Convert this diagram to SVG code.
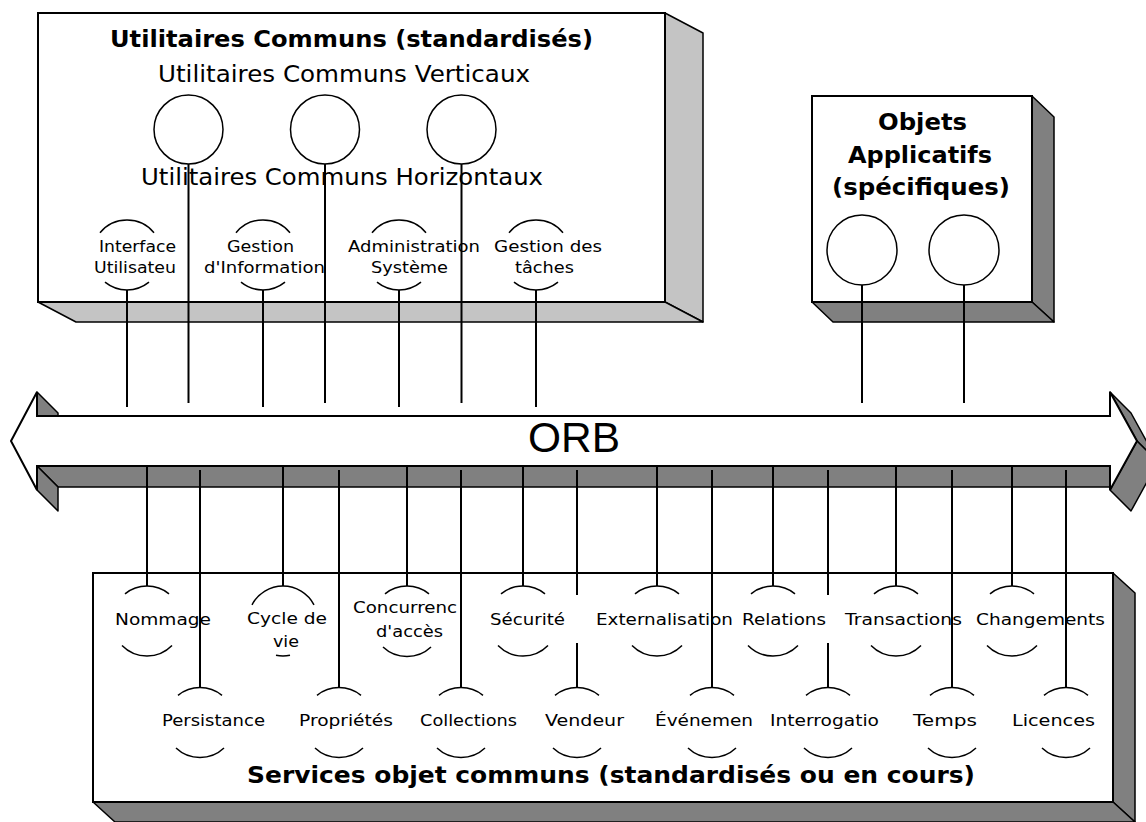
<svg xmlns="http://www.w3.org/2000/svg" width="1146" height="822" viewBox="0 0 1146 822">
<style>
.box{fill:#fff;stroke:#000;stroke-width:2}
.lt{fill:#c4c4c4;stroke:#000;stroke-width:1.5;stroke-linejoin:round}
.dk{fill:#808080;stroke:#000;stroke-width:1.5;stroke-linejoin:round}
.circ{fill:#fff;stroke:#000;stroke-width:1.5}
.arc{fill:none;stroke:#000;stroke-width:1.5}
.wire{stroke:#000;stroke-width:2;fill:none}
.lbl{font-family:"DejaVu Sans","Liberation Sans",sans-serif;font-size:15px;fill:#000}
.big{font-family:"DejaVu Sans","Liberation Sans",sans-serif;font-size:23px;fill:#000}
.b{font-weight:bold}
.orb{font-family:"Liberation Sans",Arial,sans-serif;font-size:42px;fill:#000}
</style>
<rect x="0" y="0" width="1146" height="822" fill="#fff"/>

<g id="utilitaires-communs">
  <polygon class="lt" points="665,13 703,33 703,322 665,302"/>
  <polygon class="lt" points="38,302 665,302 703,322 76,322"/>
  <rect class="box" x="38" y="13" width="627" height="289"/>
  <text class="big b" x="110" y="47" textLength="483" lengthAdjust="spacingAndGlyphs">Utilitaires Communs (standardisés)</text>
  <text class="big" x="158" y="82" textLength="372" lengthAdjust="spacingAndGlyphs">Utilitaires Communs Verticaux</text>
  <text class="big" x="141" y="185" textLength="402" lengthAdjust="spacingAndGlyphs">Utilitaires Communs Horizontaux</text>
</g>

<g id="vertical-1"><circle class="circ" cx="188.5" cy="129.5" r="34.5"/></g>
<g id="vertical-2"><circle class="circ" cx="325" cy="129.5" r="34.5"/></g>
<g id="vertical-3"><circle class="circ" cx="461.5" cy="129.5" r="34.5"/></g>

<g id="interface-utilisateur">
  <path class="arc" d="M100,232.7 A35,35 0 0 1 154,232.7"/>
  <path class="arc" d="M105,282.2 A35,35 0 0 0 149,282.2"/>
  <text class="lbl" x="99" y="252" textLength="77" lengthAdjust="spacingAndGlyphs">Interface</text>
  <text class="lbl" x="94" y="273" textLength="82" lengthAdjust="spacingAndGlyphs">Utilisateu</text>
</g>
<g id="gestion-information">
  <path class="arc" d="M236,232.7 A35,35 0 0 1 290,232.7"/>
  <path class="arc" d="M241,282.2 A35,35 0 0 0 285,282.2"/>
  <text class="lbl" x="227" y="252" textLength="67" lengthAdjust="spacingAndGlyphs">Gestion</text>
  <text class="lbl" x="204" y="273" textLength="121" lengthAdjust="spacingAndGlyphs">d'Information</text>
</g>
<g id="administration-systeme">
  <path class="arc" d="M372,232.7 A35,35 0 0 1 426,232.7"/>
  <path class="arc" d="M377,282.2 A35,35 0 0 0 421,282.2"/>
  <text class="lbl" x="348" y="252" textLength="132" lengthAdjust="spacingAndGlyphs">Administration</text>
  <text class="lbl" x="371" y="273" textLength="77" lengthAdjust="spacingAndGlyphs">Système</text>
</g>
<g id="gestion-taches">
  <path class="arc" d="M509,232.7 A35,35 0 0 1 563,232.7"/>
  <path class="arc" d="M514,282.2 A35,35 0 0 0 558,282.2"/>
  <text class="lbl" x="494" y="252" textLength="108" lengthAdjust="spacingAndGlyphs">Gestion des</text>
  <text class="lbl" x="515" y="273" textLength="59" lengthAdjust="spacingAndGlyphs">tâches</text>
</g>

<g id="objets-applicatifs">
  <polygon class="dk" points="1032,96 1054,117 1054,322 1032,302"/>
  <polygon class="dk" points="812,302 1032,302 1054,322 833,322"/>
  <rect class="box" x="812" y="96" width="220" height="206"/>
  <text class="big b" x="878" y="130" textLength="89" lengthAdjust="spacingAndGlyphs">Objets</text>
  <text class="big b" x="848" y="163" textLength="144" lengthAdjust="spacingAndGlyphs">Applicatifs</text>
  <text class="big b" x="832" y="195" textLength="178" lengthAdjust="spacingAndGlyphs">(spécifiques)</text>
</g>
<g id="objet-1"><circle class="circ" cx="862" cy="250" r="35"/></g>
<g id="objet-2"><circle class="circ" cx="964" cy="250" r="35"/></g>

<g id="orb">
  <polygon class="dk" points="37,466 1110,466 1131,487 58,487"/>
  <polygon class="dk" points="37,466 58,487 58,511 37,490"/>
  <polygon class="dk" points="37,392 58,413 58,437 37,416"/>
  <polygon class="dk" points="1110,392 1131,413 1158,462 1137,441"/>
  <polygon class="dk" points="1137,441 1158,462 1131,511 1110,490"/>
  <polygon fill="#fff" stroke="#000" stroke-width="2" stroke-linejoin="miter" points="11,441 37,392 37,416 1110,416 1110,392 1137,441 1110,490 1110,466 37,466 37,490"/>
  <text class="orb" x="528" y="452" textLength="92" lengthAdjust="spacingAndGlyphs">ORB</text>
</g>

<g id="services-objet-communs">
  <polygon class="dk" points="1113,573 1135,593 1135,822 1113,802"/>
  <polygon class="dk" points="93,802 1113,802 1135,822 115,822"/>
  <rect class="box" x="93" y="573" width="1020" height="229"/>
  <text class="big b" x="247" y="783" textLength="728" lengthAdjust="spacingAndGlyphs">Services objet communs (standardisés ou en cours)</text>
</g>

<g id="nommage">
  <path class="arc" d="M125,593.8 A35,35 0 0 1 169,593.8"/>
  <path class="arc" d="M122,645.5 A35,35 0 0 0 172,645.5"/>
  <text class="lbl" x="115" y="625" textLength="96" lengthAdjust="spacingAndGlyphs">Nommage</text>
</g>
<g id="cycle-de-vie">
  <path class="arc" d="M252,604.8 A35,35 0 0 1 314,604.8"/>
  <path class="arc" d="M276,655.3 A35,35 0 0 0 290,655.3"/>
  <text class="lbl" x="247" y="624" textLength="80" lengthAdjust="spacingAndGlyphs">Cycle de</text>
  <text class="lbl" x="273" y="647" textLength="26" lengthAdjust="spacingAndGlyphs">vie</text>
</g>
<g id="concurrence">
  <path class="arc" d="M385,593.8 A35,35 0 0 1 429,593.8"/>
  <path class="arc" d="M383,647 A35,35 0 0 0 431,647"/>
  <text class="lbl" x="353" y="613" textLength="104" lengthAdjust="spacingAndGlyphs">Concurrenc</text>
  <text class="lbl" x="376" y="637" textLength="67" lengthAdjust="spacingAndGlyphs">d'accès</text>
</g>
<g id="securite">
  <path class="arc" d="M501,593.8 A35,35 0 0 1 545,593.8"/>
  <path class="arc" d="M498,645.5 A35,35 0 0 0 548,645.5"/>
  <text class="lbl" x="490" y="625" textLength="75" lengthAdjust="spacingAndGlyphs">Sécurité</text>
</g>
<g id="externalisation">
  <path class="arc" d="M635,593.8 A35,35 0 0 1 679,593.8"/>
  <path class="arc" d="M632,645.5 A35,35 0 0 0 682,645.5"/>
  <text class="lbl" x="596" y="625" textLength="137" lengthAdjust="spacingAndGlyphs">Externalisation</text>
</g>
<g id="relations">
  <path class="arc" d="M751,593.8 A35,35 0 0 1 795,593.8"/>
  <path class="arc" d="M748,645.5 A35,35 0 0 0 798,645.5"/>
  <text class="lbl" x="742" y="625" textLength="84" lengthAdjust="spacingAndGlyphs">Relations</text>
</g>
<g id="transactions">
  <path class="arc" d="M874,593.8 A35,35 0 0 1 918,593.8"/>
  <path class="arc" d="M871,645.5 A35,35 0 0 0 921,645.5"/>
  <text class="lbl" x="845" y="625" textLength="117" lengthAdjust="spacingAndGlyphs">Transactions</text>
</g>
<g id="changements">
  <path class="arc" d="M990,593.8 A35,35 0 0 1 1034,593.8"/>
  <path class="arc" d="M987,645.5 A35,35 0 0 0 1037,645.5"/>
  <text class="lbl" x="976" y="625" textLength="129" lengthAdjust="spacingAndGlyphs">Changements</text>
</g>

<g id="persistance">
  <path class="arc" d="M178,695.3 A35,35 0 0 1 222,695.3"/>
  <path class="arc" d="M176,748 A35,35 0 0 0 224,748"/>
  <text class="lbl" x="162" y="726" textLength="103" lengthAdjust="spacingAndGlyphs">Persistance</text>
</g>
<g id="proprietes">
  <path class="arc" d="M317,695.3 A35,35 0 0 1 361,695.3"/>
  <path class="arc" d="M315,748 A35,35 0 0 0 363,748"/>
  <text class="lbl" x="299" y="726" textLength="94" lengthAdjust="spacingAndGlyphs">Propriétés</text>
</g>
<g id="collections">
  <path class="arc" d="M439,695.3 A35,35 0 0 1 483,695.3"/>
  <path class="arc" d="M437,748 A35,35 0 0 0 485,748"/>
  <text class="lbl" x="420" y="726" textLength="97" lengthAdjust="spacingAndGlyphs">Collections</text>
</g>
<g id="vendeur">
  <path class="arc" d="M555,695.3 A35,35 0 0 1 599,695.3"/>
  <path class="arc" d="M553,748 A35,35 0 0 0 601,748"/>
  <text class="lbl" x="545" y="726" textLength="79" lengthAdjust="spacingAndGlyphs">Vendeur</text>
</g>
<g id="evenements">
  <path class="arc" d="M690,695.3 A35,35 0 0 1 734,695.3"/>
  <path class="arc" d="M688,748 A35,35 0 0 0 736,748"/>
  <text class="lbl" x="655" y="726" textLength="98" lengthAdjust="spacingAndGlyphs">Événemen</text>
</g>
<g id="interrogation">
  <path class="arc" d="M806,695.3 A35,35 0 0 1 850,695.3"/>
  <path class="arc" d="M804,748 A35,35 0 0 0 852,748"/>
  <text class="lbl" x="770" y="726" textLength="109" lengthAdjust="spacingAndGlyphs">Interrogatio</text>
</g>
<g id="temps">
  <path class="arc" d="M930,695.3 A35,35 0 0 1 974,695.3"/>
  <path class="arc" d="M928,748 A35,35 0 0 0 976,748"/>
  <text class="lbl" x="913" y="726" textLength="64" lengthAdjust="spacingAndGlyphs">Temps</text>
</g>
<g id="licences">
  <path class="arc" d="M1044,695.3 A35,35 0 0 1 1088,695.3"/>
  <path class="arc" d="M1042,748 A35,35 0 0 0 1090,748"/>
  <text class="lbl" x="1012" y="726" textLength="83" lengthAdjust="spacingAndGlyphs">Licences</text>
</g>

<g id="connectors" class="wire">
  <line x1="188.5" y1="164" x2="188.5" y2="403"/>
  <line x1="325" y1="164" x2="325" y2="403"/>
  <line x1="461.5" y1="164" x2="461.5" y2="403"/>
  <line x1="127" y1="290" x2="127" y2="407"/>
  <line x1="263" y1="290" x2="263" y2="407"/>
  <line x1="399" y1="290" x2="399" y2="407"/>
  <line x1="536" y1="290" x2="536" y2="407"/>
  <line x1="862" y1="285" x2="862" y2="403"/>
  <line x1="964" y1="285" x2="964" y2="403"/>
  <line x1="147" y1="466" x2="147" y2="586"/>
  <line x1="283" y1="466" x2="283" y2="586"/>
  <line x1="407" y1="466" x2="407" y2="586"/>
  <line x1="523" y1="466" x2="523" y2="586"/>
  <line x1="657" y1="466" x2="657" y2="586"/>
  <line x1="773" y1="466" x2="773" y2="586"/>
  <line x1="896" y1="466" x2="896" y2="586"/>
  <line x1="1012" y1="466" x2="1012" y2="586"/>
  <line x1="200" y1="470" x2="200" y2="687.5"/>
  <line x1="339" y1="470" x2="339" y2="687.5"/>
  <line x1="461" y1="470" x2="461" y2="687.5"/>
  <line x1="577" y1="470" x2="577" y2="595"/>
  <line x1="577" y1="643" x2="577" y2="687.5"/>
  <line x1="712" y1="470" x2="712" y2="687.5"/>
  <line x1="828" y1="470" x2="828" y2="595"/>
  <line x1="828" y1="643" x2="828" y2="687.5"/>
  <line x1="952" y1="470" x2="952" y2="687.5"/>
  <line x1="1066" y1="470" x2="1066" y2="687.5"/>
</g>
</svg>
